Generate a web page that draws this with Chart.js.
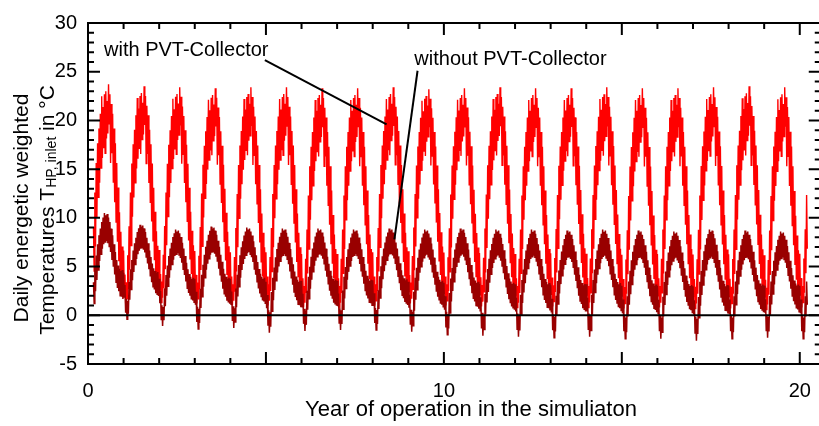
<!DOCTYPE html>
<html>
<head>
<meta charset="utf-8">
<script src="https://cdn.jsdelivr.net/npm/chart.js@4.4.0/dist/chart.umd.min.js"></script>
<style>
  html, body { margin: 0; padding: 0; background: #fff; overflow: hidden; }
  #wrap { position: relative; width: 826px; height: 426px; }
</style>
</head>
<body>
<div id="wrap"><canvas id="chart" width="826" height="426"></canvas></div>
<script>
// one typical year (52 weekly samples, daily spread shown as zig-zag)
const redCycle = [6.5, 2.2, 4.0, 1.0, 3.2, 1.5, 6.0, 2.5, 9.0, 4.5, 12.5, 7.0, 15.5, 10.0, 17.5, 12.0,
  19.0, 13.5, 20.5, 15.0, 22.3, 16.0, 21.2, 17.0, 22.5, 16.5, 22.8, 18.0, 21.8, 18.5, 23.5, 19.5,
  22.5, 15.5, 21.5, 16.5, 20.5, 13.5, 19.0, 11.5, 17.5, 9.5, 15.5, 7.5, 13.0, 5.5, 10.5, 4.0,
  8.5, 3.0, 7.0, 2.5];
const darkCycle = [3.8, 1.2, 2.5, -0.5, 1.0, -1.2, 0.8, -0.6, 2.8, 0.9, 4.2, 2.0, 5.2, 3.0, 6.2, 3.9,
  7.0, 4.7, 7.6, 5.3, 8.2, 5.8, 8.6, 6.2, 9.0, 6.4, 8.8, 6.5, 8.9, 6.3, 8.6, 6.0,
  8.2, 5.5, 7.6, 4.8, 7.0, 4.2, 6.2, 3.5, 5.5, 2.8, 4.8, 2.3, 4.3, 2.0, 4.0, 1.6,
  3.8, 1.5, 3.9, 1.3];

// yearly extremes (year 0 .. 20)
const redHigh = [23.7, 23.5, 23.4, 23.3, 23.4, 23.4, 23.3, 23.3, 23.4, 23.2, 23.3, 23.4, 23.3, 23.3, 23.4, 23.3, 23.3, 23.4, 23.5, 23.4, 23.4];
const redLow = [1.0, 1.2, 1.3, 1.2, 1.0, 1.0, 0.8, 0.8, 1.0, 1.2, 1.0, 0.9, 0.8, 0.9, 0.8, 0.7, 0.8, 0.7, 0.7, 0.6, 0.8];
const darkHigh = [10.5, 9.3, 8.8, 9.1, 9.0, 8.9, 8.9, 8.8, 8.9, 8.8, 8.9, 8.8, 8.8, 8.7, 8.8, 8.7, 8.6, 8.8, 8.7, 8.6, 8.7];
const darkLow = [-1.2, -0.4, -1.1, -1.4, -1.3, -1.8, -1.6, -1.5, -1.5, -1.7, -2.0, -2.1, -2.2, -2.3, -2.2, -2.4, -2.4, -2.6, -2.4, -2.3, -2.4];

const firstDay = 0.15, lastDay = 20.22;
const xTickLabels = [0, 10, 20];
const yTickLabels = [-5, 0, 5, 10, 15, 20, 25, 30];

const labelWith = { text: 'with PVT-Collector', x: 0.45, y: 27.2, line: [[4.97, 26.2], [8.39, 19.6]] };
const labelWithout = { text: 'without PVT-Collector', x: 9.17, y: 26.3, line: [[9.26, 25.1], [8.61, 7.8]] };

const FONT = "'Liberation Sans', Arial, sans-serif";

function rescale(cycle, lo, hi) {
  const cMin = Math.min(...cycle), cMax = Math.max(...cycle);
  return v => lo + (v - cMin) / (cMax - cMin) * (hi - lo);
}

function buildSeries(cycle, lows, highs) {
  const out = [];
  for (let yr = 0; yr < lows.length; yr++) {
    const f = rescale(cycle, lows[yr], highs[yr]);
    for (let k = 0; k < cycle.length; k++) {
      const t = yr + k / cycle.length;
      if (t < firstDay || t > lastDay) continue;
      out.push({ x: t, y: f(cycle[k]) });
    }
  }
  return out;
}

const redData = buildSeries(redCycle, redLow, redHigh);
const darkData = buildSeries(darkCycle, darkLow, darkHigh);

const framePlugin = {
  id: 'frame',
  afterDatasetsDraw(chart) {
    const { ctx, chartArea: a, scales: { x, y } } = chart;
    ctx.save();
    ctx.strokeStyle = '#000';
    ctx.lineWidth = 2;
    // zero line
    ctx.beginPath();
    ctx.moveTo(a.left, y.getPixelForValue(0));
    ctx.lineTo(a.right, y.getPixelForValue(0));
    ctx.stroke();
    // frame
    ctx.strokeRect(a.left, a.top, a.right - a.left, a.bottom - a.top);
    // inward ticks
    ctx.beginPath();
    for (let v = 0; v <= 20; v++) {
      const px = x.getPixelForValue(v);
      const len = v % 5 === 0 ? 12 : 6;
      ctx.moveTo(px, a.bottom); ctx.lineTo(px, a.bottom - len);
      ctx.moveTo(px, a.top); ctx.lineTo(px, a.top + len);
    }
    for (let v = -5; v <= 30; v++) {
      const py = y.getPixelForValue(v);
      const len = v % 5 === 0 ? 12 : 6;
      ctx.moveTo(a.left, py); ctx.lineTo(a.left + len, py);
      ctx.moveTo(a.right, py); ctx.lineTo(a.right - len, py);
    }
    ctx.stroke();

    // annotations
    ctx.fillStyle = '#000';
    ctx.font = '20px ' + FONT;
    ctx.textBaseline = 'middle';
    ctx.textAlign = 'left';
    for (const lab of [labelWith, labelWithout]) {
      ctx.fillText(lab.text, x.getPixelForValue(lab.x), y.getPixelForValue(lab.y));
      ctx.beginPath();
      ctx.moveTo(x.getPixelForValue(lab.line[0][0]), y.getPixelForValue(lab.line[0][1]));
      ctx.lineTo(x.getPixelForValue(lab.line[1][0]), y.getPixelForValue(lab.line[1][1]));
      ctx.stroke();
    }

    // axis titles
    ctx.textAlign = 'center';
    ctx.font = '22px ' + FONT;
    ctx.fillText('Year of operation in the simuliaton', 471, 410);

    ctx.font = '21px ' + FONT;
    ctx.translate(22, 208);
    ctx.rotate(-Math.PI / 2);
    ctx.fillText('Daily energetic weighted', 0, 0);
    ctx.rotate(Math.PI / 2);
    ctx.translate(-22, -208);

    const big = '21px ' + FONT, small = '14px ' + FONT;
    const parts = [['Temperatures T', big, 0], ['HP, inlet', small, 4], [' in °C', big, 0]];
    let total = 0;
    for (const p of parts) { ctx.font = p[1]; total += ctx.measureText(p[0]).width; }
    ctx.translate(48, 210);
    ctx.rotate(-Math.PI / 2);
    ctx.textAlign = 'left';
    let pos = -total / 2;
    for (const p of parts) {
      ctx.font = p[1];
      ctx.fillText(p[0], pos, p[2]);
      pos += ctx.measureText(p[0]).width;
    }
    ctx.restore();
  }
};

new Chart(document.getElementById('chart'), {
  type: 'line',
  data: {
    datasets: [
      { label: 'without PVT-Collector', data: darkData, borderColor: '#990000', borderWidth: 1.5, pointRadius: 0, order: 0 },
      { label: 'with PVT-Collector', data: redData, borderColor: '#ff0000', borderWidth: 1.4, pointRadius: 0, order: 1 }
    ]
  },
  options: {
    responsive: false,
    animation: false,
    normalized: true,
    layout: { padding: { left: 0, top: 17, right: 4, bottom: 0 } },
    plugins: { legend: { display: false }, tooltip: { enabled: false } },
    scales: {
      x: {
        type: 'linear',
        min: 0, max: 20.59,
        grid: { display: false, drawTicks: false },
        border: { display: false },
        afterFit: s => { s.height = 62; },
        ticks: {
          includeBounds: false, stepSize: 10, padding: 15, color: '#000',
          font: { family: FONT, size: 20 },
          callback: v => xTickLabels.includes(v) ? String(v) : ''
        }
      },
      y: {
        min: -5, max: 30,
        grid: { display: false, drawTicks: false },
        border: { display: false },
        afterFit: s => { s.width = 88; },
        ticks: {
          stepSize: 5, padding: 11, color: '#000',
          font: { family: FONT, size: 20 },
          callback: v => yTickLabels.includes(v) ? String(v) : ''
        }
      }
    }
  },
  plugins: [framePlugin]
});
</script>
</body>
</html>
